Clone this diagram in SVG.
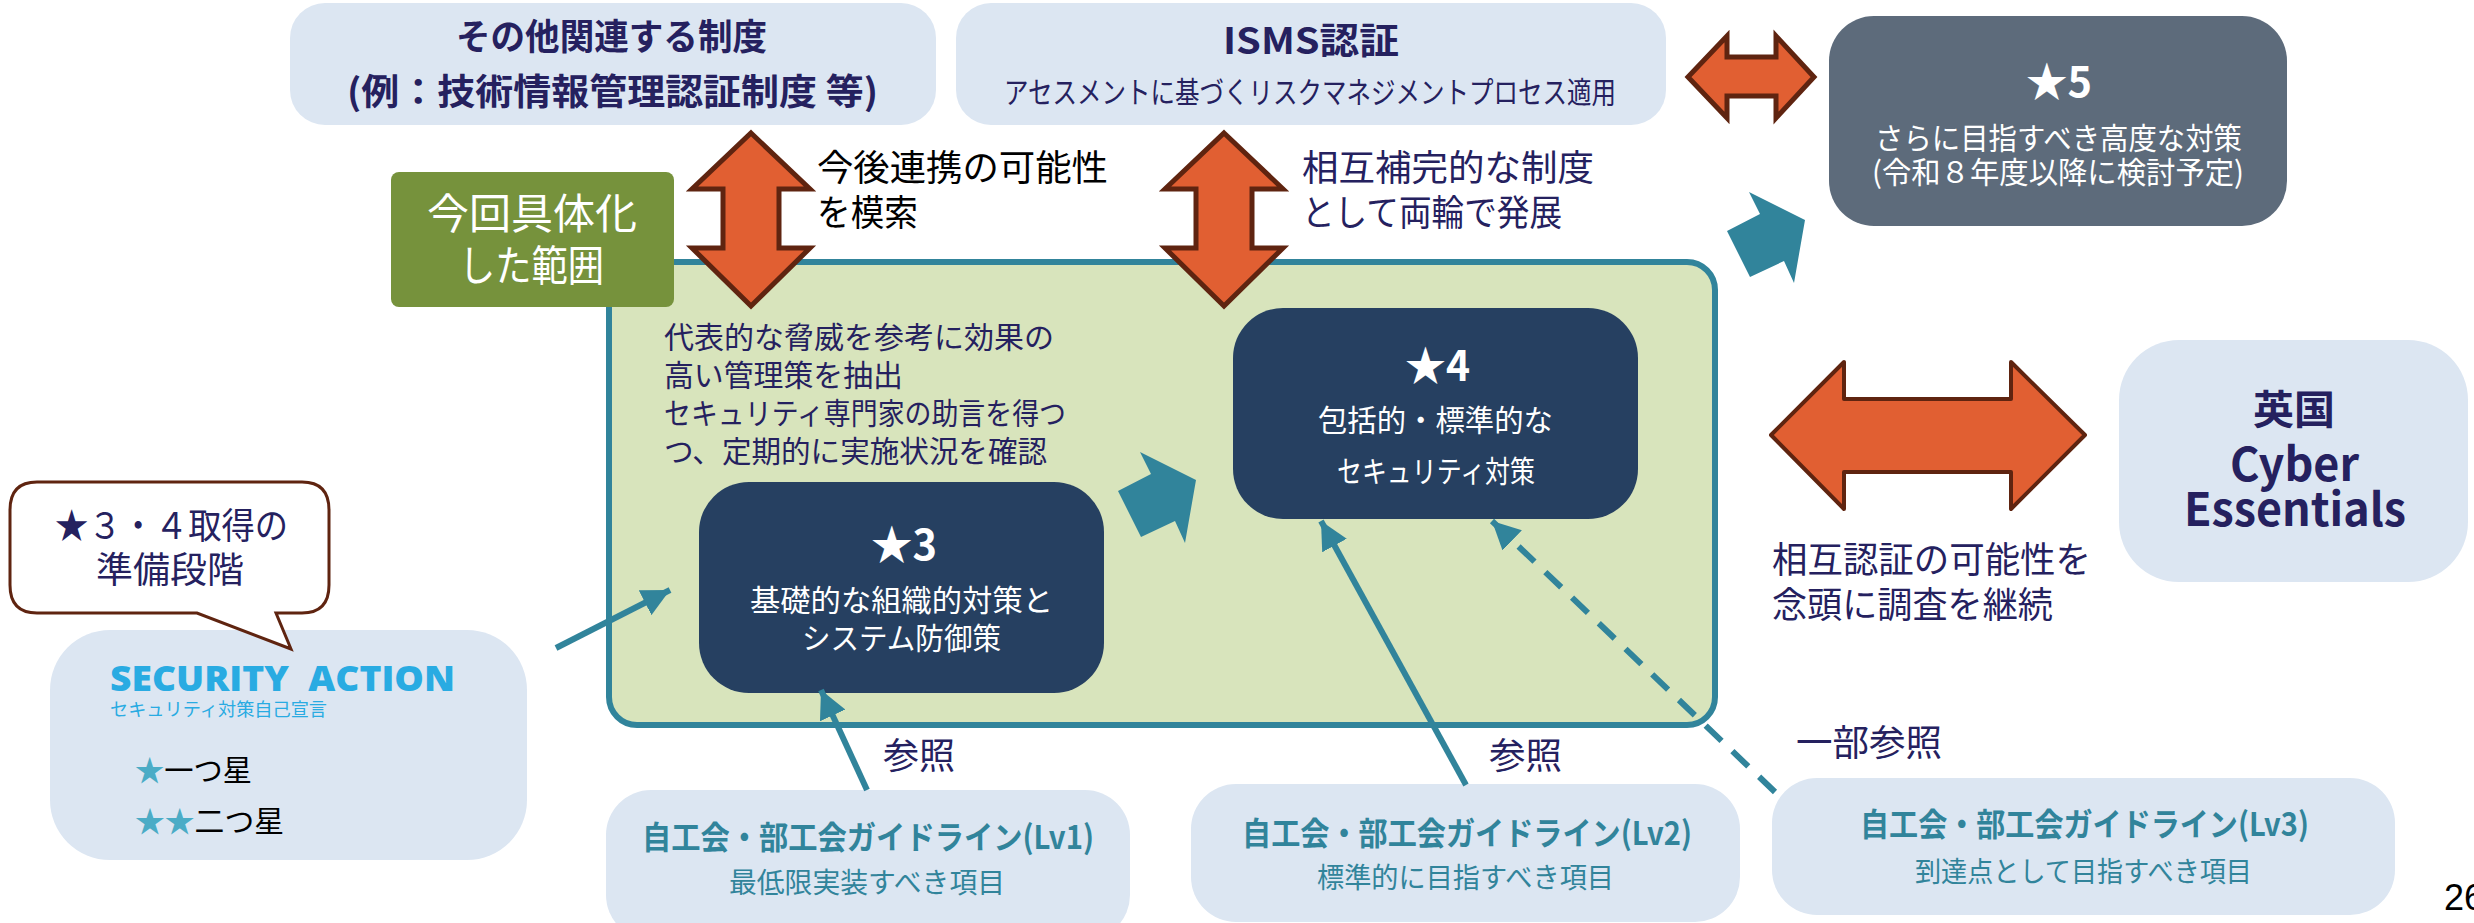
<svg xmlns="http://www.w3.org/2000/svg" width="2474" height="923" viewBox="0 0 2474 923" xml:lang="ja">
<style>
text{font-family:"Noto Sans CJK JP","Noto Sans",sans-serif;font-size:32px;fill:#25215f}
.b{font-weight:700}
.w{fill:#fff}
.t{fill:#31849b}
.k{fill:#000}
.lb{fill:#dce6f2}
.dk{fill:#264061}
.blk{fill:#e15f32;stroke:#5f2410;stroke-width:5;stroke-linejoin:miter}
.teal{fill:#31849b}
.ln{fill:none;stroke:#31849b;stroke-width:6;marker-end:url(#h)}
</style>
<defs>
<marker id="h" viewBox="0 0 10 10" refX="10" refY="5" markerWidth="28" markerHeight="28" markerUnits="userSpaceOnUse" orient="auto"><path d="M0 0L10 5L0 10z" fill="#31849b"/></marker>
</defs>
<rect width="2474" height="923" fill="#fff"/>
<g id="scope"><rect x="609" y="262" width="1106" height="463" rx="28" fill="#d8e4bc" stroke="#31849b" stroke-width="6"/></g>
<g id="scope-label"><rect x="391" y="172" width="283" height="135" rx="8" fill="#76923c"/>
<text class="w" x="427" y="229" style="font-size:42px" textLength="210" lengthAdjust="spacingAndGlyphs">今回具体化</text>
<text class="w" x="459" y="281" style="font-size:42px" textLength="145" lengthAdjust="spacingAndGlyphs">した範囲</text></g>
<g id="other"><rect class="lb" x="290" y="3" width="646" height="122" rx="35"/>
<text class="b" x="456" y="50" style="font-size:36px" textLength="311" lengthAdjust="spacingAndGlyphs">その他関連する制度</text>
<text class="b" x="347" y="105" style="font-size:36px" textLength="531" lengthAdjust="spacingAndGlyphs">(例：技術情報管理認証制度 等)</text></g>
<g id="isms"><rect class="lb" x="956" y="3" width="710" height="122" rx="35"/>
<text class="b" x="1223" y="54" style="font-size:36px" textLength="176" lengthAdjust="spacingAndGlyphs">ISMS認証</text>
<text x="1004" y="103" style="font-size:30px" textLength="612" lengthAdjust="spacingAndGlyphs">アセスメントに基づくリスクマネジメントプロセス適用</text></g>
<g id="star5"><rect x="1829" y="16" width="458" height="210" rx="45" fill="#5d6b7b"/>
<text class="w b" x="2026" y="97" style="font-size:42px" textLength="66" lengthAdjust="spacingAndGlyphs">★5</text>
<text class="w" x="1875" y="149" style="font-size:30px" textLength="367" lengthAdjust="spacingAndGlyphs">さらに目指すべき高度な対策</text>
<text class="w" x="1872" y="183" style="font-size:30px" textLength="372" lengthAdjust="spacingAndGlyphs">(令和８年度以降に検討予定)</text></g>
<g id="star4"><rect class="dk" x="1233" y="308" width="405" height="211" rx="50"/>
<text class="w b" x="1405" y="381" style="font-size:42px" textLength="65" lengthAdjust="spacingAndGlyphs">★4</text>
<text class="w" x="1318" y="431" style="font-size:30px" textLength="235" lengthAdjust="spacingAndGlyphs">包括的・標準的な</text>
<text class="w" x="1337" y="482" style="font-size:30px" textLength="198" lengthAdjust="spacingAndGlyphs">セキュリティ対策</text></g>
<g id="star3"><rect class="dk" x="699" y="482" width="405" height="211" rx="50"/>
<text class="w b" x="871" y="560" style="font-size:42px" textLength="66" lengthAdjust="spacingAndGlyphs">★3</text>
<text class="w" x="750" y="611" style="font-size:30px" textLength="303" lengthAdjust="spacingAndGlyphs">基礎的な組織的対策と</text>
<text class="w" x="802" y="649" style="font-size:30px" textLength="199" lengthAdjust="spacingAndGlyphs">システム防御策</text></g>
<g id="uk"><rect class="lb" x="2119" y="340" width="349" height="242" rx="60"/>
<text class="b" x="2253" y="424" style="font-size:40px" textLength="82" lengthAdjust="spacingAndGlyphs">英国</text>
<text class="b" x="2230" y="481" style="font-size:46px" textLength="129" lengthAdjust="spacingAndGlyphs">Cyber</text>
<text class="b" x="2184" y="526" style="font-size:46px" textLength="222" lengthAdjust="spacingAndGlyphs">Essentials</text></g>
<g id="security-action"><rect class="lb" x="50" y="630" width="477" height="230" rx="60"/>
<text x="110" y="691" style="font-size:36px;font-weight:800;fill:#29abe2;font-family:'Open Sans','Noto Sans',sans-serif" textLength="345" lengthAdjust="spacingAndGlyphs" xml:space="preserve">SECURITY  ACTION</text>
<text x="110" y="716" style="font-size:18px;fill:#29abe2" textLength="217" lengthAdjust="spacingAndGlyphs">セキュリティ対策自己宣言</text>
<text class="k" x="135" y="781" style="font-size:30px" textLength="117" lengthAdjust="spacingAndGlyphs"><tspan style="fill:#4bacc6">★</tspan>一つ星</text>
<text class="k" x="135" y="832" style="font-size:30px" textLength="149" lengthAdjust="spacingAndGlyphs"><tspan style="fill:#4bacc6">★★</tspan>二つ星</text></g>
<g id="callout"><path d="M37 482H302Q329 482 329 510V585Q329 613 302 613H276L291 649L197 613H37Q10 613 10 585V510Q10 482 37 482Z" fill="#fff" stroke="#5f2410" stroke-width="3"/>
<text x="55" y="539" style="font-size:36px" textLength="233" lengthAdjust="spacingAndGlyphs">★３・４取得の</text>
<text x="96" y="583" style="font-size:36px" textLength="148" lengthAdjust="spacingAndGlyphs">準備段階</text></g>
<g id="lv1"><rect class="lb" x="606" y="790" width="524" height="150" rx="45"/>
<text class="t b" x="642" y="849" style="font-size:32px" textLength="452" lengthAdjust="spacingAndGlyphs">自工会・部工会ガイドライン(Lv1)</text>
<text class="t" x="729" y="893" style="font-size:28px" textLength="276" lengthAdjust="spacingAndGlyphs">最低限実装すべき項目</text></g>
<g id="lv2"><rect class="lb" x="1191" y="784" width="549" height="138" rx="45"/>
<text class="t b" x="1242" y="845" style="font-size:32px" textLength="450" lengthAdjust="spacingAndGlyphs">自工会・部工会ガイドライン(Lv2)</text>
<text class="t" x="1317" y="888" style="font-size:28px" textLength="297" lengthAdjust="spacingAndGlyphs">標準的に目指すべき項目</text></g>
<g id="lv3"><rect class="lb" x="1772" y="778" width="623" height="137" rx="45"/>
<text class="t b" x="1860" y="836" style="font-size:32px" textLength="449" lengthAdjust="spacingAndGlyphs">自工会・部工会ガイドライン(Lv3)</text>
<text class="t" x="1915" y="882" style="font-size:28px" textLength="337" lengthAdjust="spacingAndGlyphs">到達点として目指すべき項目</text></g>
<g id="connectors">
<path class="ln" d="M556 648L670 590"/>
<path class="ln" d="M867 790L821 690"/>
<path class="ln" d="M1466 785L1321 521"/>
<path class="ln" stroke-dasharray="22 15" d="M1775 792L1492 521"/>
<polygon class="teal" points="1749,192 1805,220 1794,283 1784,261 1750,277 1727,231 1760,214"/>
<polygon class="teal" points="1140,452 1196,480 1185,543 1175,521 1141,537 1118,491 1151,474"/>
<polygon class="blk" points="751,133 810,189 779,189 779,248 810,248 751,306 692,248 723,248 723,189 692,189"/>
<polygon class="blk" points="1224,133 1283,189 1252,189 1252,248 1283,248 1224,306 1165,248 1196,248 1196,189 1165,189"/>
<polygon class="blk" points="1688,77 1727,36 1727,57 1776,57 1776,36 1814,77 1776,118 1776,96 1727,96 1727,118"/>
<polygon class="blk" style="stroke-width:4;stroke-linejoin:round" points="1771,435 1844,362 1844,399 2011,399 2011,362 2085,435 2011,509 2011,472 1844,472 1844,509"/>
</g>
<g id="labels">
<text class="k" x="817" y="181" style="font-size:36px" textLength="291" lengthAdjust="spacingAndGlyphs">今後連携の可能性</text>
<text class="k" x="817" y="226" style="font-size:36px" textLength="101" lengthAdjust="spacingAndGlyphs">を模索</text>
<text x="1302" y="181" style="font-size:36px" textLength="292" lengthAdjust="spacingAndGlyphs">相互補完的な制度</text>
<text x="1302" y="226" style="font-size:36px" textLength="260" lengthAdjust="spacingAndGlyphs">として両輪で発展</text>
<text x="664" y="348" style="font-size:30px" textLength="390" lengthAdjust="spacingAndGlyphs">代表的な脅威を参考に効果の</text>
<text x="664" y="386" style="font-size:30px" textLength="239" lengthAdjust="spacingAndGlyphs">高い管理策を抽出</text>
<text x="664" y="424" style="font-size:30px" textLength="402" lengthAdjust="spacingAndGlyphs">セキュリティ専門家の助言を得つ</text>
<text x="664" y="462" style="font-size:30px" textLength="383" lengthAdjust="spacingAndGlyphs">つ、定期的に実施状況を確認</text>
<text x="1772" y="573" style="font-size:36px" textLength="319" lengthAdjust="spacingAndGlyphs">相互認証の可能性を</text>
<text x="1772" y="618" style="font-size:36px" textLength="281" lengthAdjust="spacingAndGlyphs">念頭に調査を継続</text>
<text x="883" y="769" style="font-size:36px" textLength="72" lengthAdjust="spacingAndGlyphs">参照</text>
<text x="1489" y="769" style="font-size:36px" textLength="73" lengthAdjust="spacingAndGlyphs">参照</text>
<text x="1796" y="756" style="font-size:36px" textLength="146" lengthAdjust="spacingAndGlyphs">一部参照</text>
<text class="k" x="2444" y="910" style="font-size:36px;font-family:'Liberation Sans',sans-serif">26</text>
</g>
</svg>
